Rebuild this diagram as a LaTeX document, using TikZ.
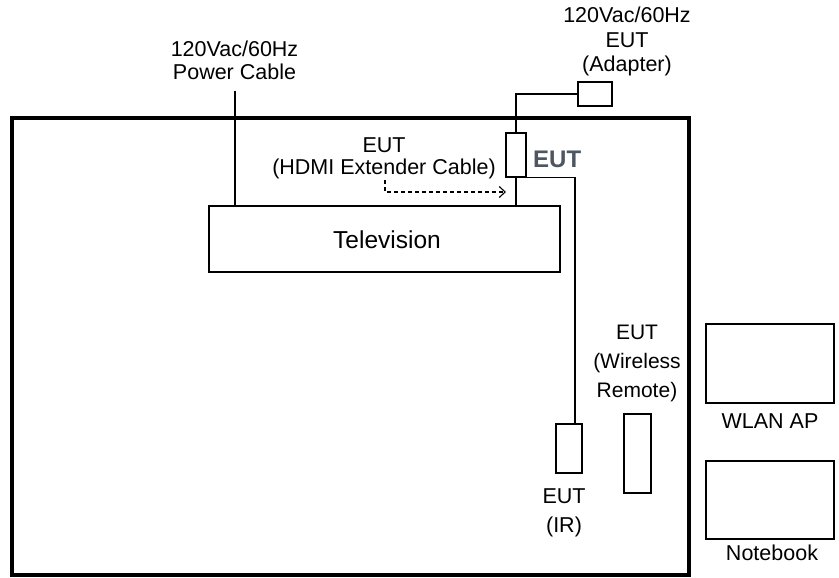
\documentclass[tikz,border=0pt]{standalone}
\usepackage{fontspec}
\setmainfont{Liberation Sans}
\usetikzlibrary{arrows.meta}
\definecolor{eutgrey}{RGB}{78,86,98}
\begin{document}
\begin{tikzpicture}[x=1pt,y=-1pt,
  thin line/.style={line width=1.3pt},
  lbl/.style={font=\fontsize{21.5}{24}\selectfont,align=center,anchor=base,inner sep=0pt},
]
\useasboundingbox (0,0) rectangle (839,578);
% room
\draw[line width=4pt] (11.5,118.5) rectangle (689,574.5);
% television
\node[draw,line width=1.3pt,minimum width=351pt,minimum height=66pt,inner sep=0pt] (tv) at (384.5,239) {};
\node[lbl,font=\fontsize{24.5}{28}\selectfont] (tvl) at (387,248) {Television};
% power cable
\coordinate (pc) at (235,91);
\draw[thin line] (pc) -- (pc |- tv.north);
\node[lbl,font=\fontsize{21.5}{23}\selectfont] (pcl) at (234.5,80) {120Vac/60Hz\\Power Cable};
% HDMI extender EUT
\node[draw,line width=1.3pt,minimum width=20pt,minimum height=44pt,inner sep=0pt] (hdmi) at (516,155) {};
\node[draw,line width=1.3pt,minimum width=34pt,minimum height=24pt,inner sep=0pt] (adp) at (595,94) {};
\draw[thin line] (hdmi.north) |- (adp.west);
\draw[thin line] (hdmi.south) -- (hdmi.south |- tv.north);
\node[lbl,font=\fontsize{21.5}{24.5}\selectfont] (adpl) at (627,72) {120Vac/60Hz\\EUT\\(Adapter)};
\node[lbl,font=\fontsize{24}{28}\selectfont\bfseries,text=eutgrey,anchor=base west] (eut) at (533,167) {EUT};
\node[lbl,font=\fontsize{21.5}{22}\selectfont] (hdmil) at (384,175) {EUT\\(HDMI Extender Cable)};
\coordinate (da) at (385,180);
\coordinate (db) at (506,192);
\draw[line width=1.1pt,dash pattern=on 4pt off 3pt,-{Straight Barb[length=6pt,width=11pt,line width=1.1pt]}] (da) |- (db);
% IR
\node[draw,line width=1.3pt,minimum width=26pt,minimum height=49pt,inner sep=0pt] (ir) at (569,448.5) {};
\draw[thin line] (hdmi.south east) -| ([xshift=6pt]ir.north);
\node[lbl,font=\fontsize{21.5}{29}\selectfont] (irl) at (564,532) {EUT\\(IR)};
% wireless remote
\node[draw,line width=1.3pt,minimum width=27pt,minimum height=79pt,inner sep=0pt] (rem) at (637.5,453.5) {};
\node[lbl,font=\fontsize{21}{29}\selectfont] (reml) at (637,397) {EUT\\(Wireless\\Remote)};
% WLAN AP and notebook
\node[draw,line width=1.3pt,minimum width=128pt,minimum height=79pt,inner sep=0pt] (ap) at (770,363.5) {};
\node[lbl] (apl) at (770,428) {WLAN AP};
\node[draw,line width=1.3pt,minimum width=128pt,minimum height=78pt,inner sep=0pt] (nb) at (770,500) {};
\node[lbl] (nbl) at (772,560) {Notebook};
\end{tikzpicture}
\end{document}
